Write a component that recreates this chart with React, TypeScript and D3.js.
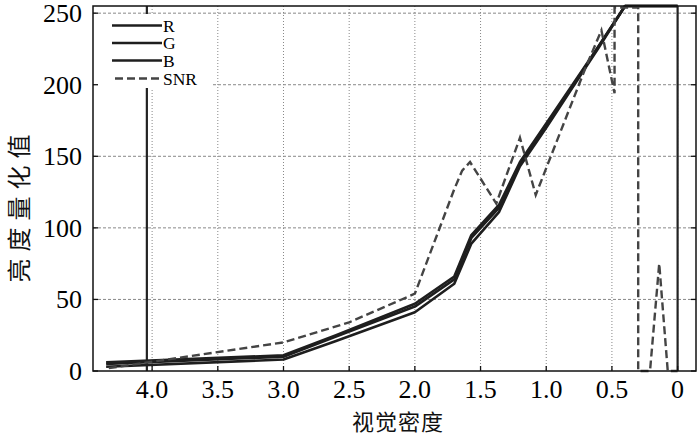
import { useRef, useEffect } from 'react'
import * as d3 from 'd3'

// visual density on the x axis, shared by R, G, B
const densities = [4.35, 3.0, 2.6, 2.0, 1.7, 1.57, 1.36, 1.2, 1.0, 0.8, 0.6, 0.4, 0.0]
const rValues = [3, 8, 21, 41, 61, 89, 111, 143, 170, 198, 226, 255, 255]
const gValues = [5, 10, 24, 45, 64, 93, 114, 145, 172, 199, 227, 255, 255]
const bValues = [6, 11, 25, 47, 66, 95, 116, 146, 173, 200, 227, 255, 255]

const snrDensities = [4.33, 3.0, 2.5, 2.0, 1.7, 1.64, 1.58, 1.38, 1.2, 1.08, 0.7, 0.58, 0.48, 0.48, 0.3, 0.3, 0.21, 0.14, 0.075, 0]
const snrValues = [2, 20, 34, 54, 127, 140, 146, 117, 163, 123, 212, 238, 194, 254, 254, 0, 0, 75, 0, 0]

// vertical reference lines
const markers = [4.04, 0]

const xTicks = [4.0, 3.5, 3.0, 2.5, 2.0, 1.5, 1.0, 0.5, 0]
const xTickLabels = ['4.0', '3.5', '3.0', '2.5', '2.0', '1.5', '1.0', '0.5', '0']
const yTicks = [0, 50, 100, 150, 200, 250]
const yTickLabels = ['0', '50', '100', '150', '200', '250']

const legendNames = ['R', 'G', 'B', 'SNR']

const Chart = () => {
  const ref = useRef<SVGSVGElement>(null)

  useEffect(() => {
    if (!ref.current) return
    const width = 700
    const height = 436
    const left = 93
    const right = 696
    const top = 6
    const bottom = 371
    const serif = '"Liberation Serif", "Times New Roman", serif'
    const cjk = '"Noto Sans CJK SC", sans-serif'

    const svg = d3.select(ref.current)
    svg.selectAll('*').remove()
    svg.attr('width', width).attr('height', height)

    const x = d3.scaleLinear().domain([4.45, -0.14]).range([left, right])
    const y = d3.scaleLinear().domain([0, 255]).range([bottom, top])

    svg.append('rect').attr('width', width).attr('height', height).attr('fill', '#fff')

    // grid
    svg
      .append('g')
      .selectAll('line')
      .data(xTicks)
      .enter()
      .append('line')
      .attr('x1', (d) => x(d))
      .attr('x2', (d) => x(d))
      .attr('y1', top)
      .attr('y2', bottom)
      .attr('stroke', '#888')
      .attr('stroke-width', 1)
      .attr('stroke-dasharray', '1,2')
    svg
      .append('g')
      .selectAll('line')
      .data(yTicks.filter((d) => d > 0))
      .enter()
      .append('line')
      .attr('x1', left)
      .attr('x2', right)
      .attr('y1', (d) => y(d))
      .attr('y2', (d) => y(d))
      .attr('stroke', '#888')
      .attr('stroke-width', 1)
      .attr('stroke-dasharray', '3,2')

    // lines
    const rgbLine = (vals: number[]) =>
      d3
        .line<number>()
        .x((_, i) => x(densities[i]))
        .y((d) => y(d))(vals)

    const plot = svg.append('g')
    markers.forEach((m) => {
      plot
        .append('line')
        .attr('x1', x(m))
        .attr('x2', x(m))
        .attr('y1', y(0))
        .attr('y2', y(255))
        .attr('stroke', '#222')
        .attr('stroke-width', 2.2)
    })
    ;[rValues, gValues, bValues].forEach((vals) => {
      plot
        .append('path')
        .attr('d', rgbLine(vals))
        .attr('fill', 'none')
        .attr('stroke', '#1e1e1e')
        .attr('stroke-width', 2.6)
        .attr('stroke-linejoin', 'round')
    })
    const snrLine = d3
      .line<number>()
      .x((_, i) => x(snrDensities[i]))
      .y((d) => y(d))
    plot
      .append('path')
      .attr('d', snrLine(snrValues))
      .attr('fill', 'none')
      .attr('stroke', '#444')
      .attr('stroke-width', 2.4)
      .attr('stroke-dasharray', '8,4')

    // legend
    const lg = svg.append('g')
    lg.append('rect').attr('x', 94).attr('y', 14).attr('width', 118).attr('height', 74).attr('fill', '#fff')
    const legendY = [25.5, 43, 60.5, 78.5]
    legendNames.forEach((name, i) => {
      const dashed = name === 'SNR'
      lg.append('line')
        .attr('x1', dashed ? 115 : 112)
        .attr('x2', 162)
        .attr('y1', legendY[i])
        .attr('y2', legendY[i])
        .attr('stroke', dashed ? '#444' : '#1e1e1e')
        .attr('stroke-width', 2.6)
        .attr('stroke-dasharray', dashed ? '8,4' : null)
      lg.append('text')
        .attr('x', 163)
        .attr('y', legendY[i] + 6)
        .attr('font-family', serif)
        .attr('font-size', 17.5)
        .attr('fill', '#000')
        .text(name)
    })

    // frame
    svg
      .append('rect')
      .attr('x', left)
      .attr('y', top)
      .attr('width', right - left)
      .attr('height', bottom - top)
      .attr('fill', 'none')
      .attr('stroke', '#111')
      .attr('stroke-width', 1.5)

    // ticks
    const tk = svg.append('g').attr('stroke', '#111').attr('stroke-width', 1.3)
    xTicks.forEach((t) => {
      tk.append('line').attr('x1', x(t)).attr('x2', x(t)).attr('y1', bottom).attr('y2', bottom - 5)
    })
    yTicks.forEach((t) => {
      tk.append('line').attr('x1', left).attr('x2', left + 5).attr('y1', y(t)).attr('y2', y(t))
      tk.append('line').attr('x1', right).attr('x2', right - 5).attr('y1', y(t)).attr('y2', y(t))
    })

    // tick labels
    svg
      .append('g')
      .selectAll('text')
      .data(xTicks)
      .enter()
      .append('text')
      .attr('x', (d) => x(d))
      .attr('y', 398)
      .attr('text-anchor', 'middle')
      .attr('font-family', serif)
      .attr('font-size', 26)
      .attr('fill', '#000')
      .text((_, i) => xTickLabels[i])
    svg
      .append('g')
      .selectAll('text')
      .data(yTicks)
      .enter()
      .append('text')
      .attr('x', 82)
      .attr('y', (d) => y(d) + 9)
      .attr('text-anchor', 'end')
      .attr('font-family', serif)
      .attr('font-size', 26)
      .attr('fill', '#000')
      .text((_, i) => yTickLabels[i])

    // axis titles
    svg
      .append('text')
      .attr('x', 398)
      .attr('y', 430)
      .attr('text-anchor', 'middle')
      .attr('font-family', cjk)
      .attr('font-size', 22)
      .attr('letter-spacing', 1)
      .attr('fill', '#111')
      .text('视觉密度')
    svg
      .append('text')
      .attr('transform', 'translate(28,205) rotate(-90)')
      .attr('text-anchor', 'middle')
      .attr('font-family', cjk)
      .attr('font-size', 24)
      .attr('letter-spacing', 7)
      .attr('fill', '#111')
      .text('亮度量化值')
  }, [])

  return <svg ref={ref} style={{ position: 'absolute', left: 0, top: 0 }} />
}

export default function App() {
  return <Chart />
}
